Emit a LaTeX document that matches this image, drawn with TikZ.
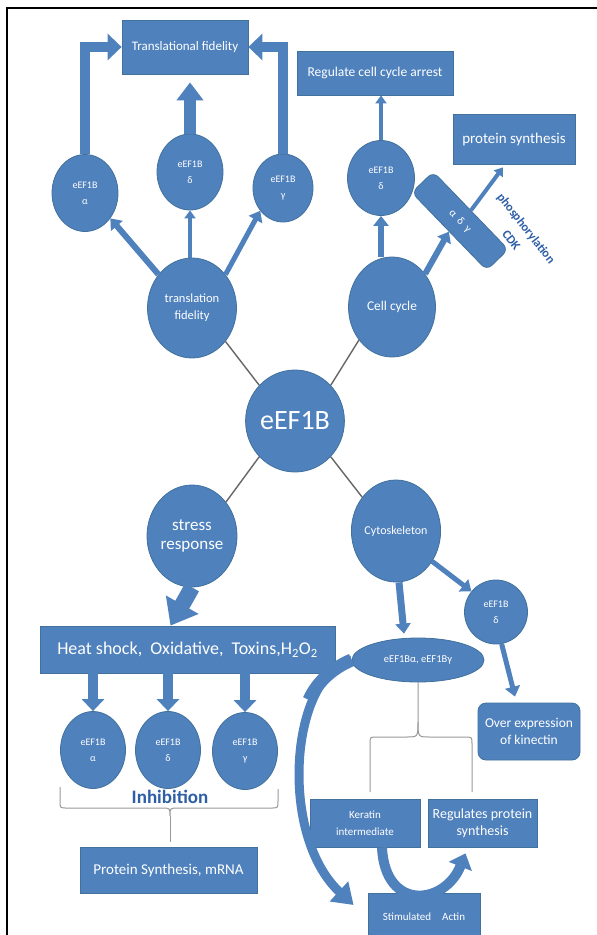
\documentclass[tikz,border=0pt]{standalone}
\usepackage{fontspec}
\setmainfont{Carlito}
\usetikzlibrary{shapes.geometric,arrows.meta}
\definecolor{fillblue}{HTML}{4F81BD}
\definecolor{rimblue}{HTML}{41719C}
\definecolor{inkblue}{HTML}{2E5FA6}
\newcommand{\fsz}[2]{\fontsize{#1}{#2}\selectfont}

\begin{document}
\begin{tikzpicture}[x=1pt,y=-1pt,
    blob/.style={ellipse,fill=fillblue,draw=rimblue,line width=0.8pt,text=white,inner sep=0pt,align=center},
    panel/.style={rectangle,fill=fillblue,draw=rimblue,line width=0.8pt,text=white,inner sep=0pt,align=center},
    link/.style={draw=black!60,line width=1.4pt},
    bracket/.style={draw=black!40,line width=1pt},
    push/.style={draw=fillblue,line width=#1},
    bigarrow/.style={draw=fillblue,line width=10pt,-{Triangle[length=14pt,width=26pt]}},
    midarrow/.style={draw=fillblue,line width=6pt,-{Triangle[length=10pt,width=15pt]}},
    thinarrow/.style={draw=fillblue,line width=4pt,-{Triangle[length=8pt,width=11pt]}}]
    \fill[white] (0,0) rectangle (597,935);
    \path[use as bounding box] (0,0) rectangle (597,935);
    \draw[line width=2pt] (7,935) -- (7,8) -- (597,8);

    \node[blob,minimum width=86pt,minimum height=102pt,font=\fsz{28}{30}] (core) at (295,421) {eEF1B};
    \node[blob,minimum width=89pt,minimum height=100pt,font=\fsz{12.5}{17}] (tfid) at (192,308) {translation\\fidelity};
    \node[blob,minimum width=87pt,minimum height=100pt,font=\fsz{13.4}{15}] (ccyc) at (392,307) {Cell cycle};
    \node[blob,minimum width=90pt,minimum height=102pt,font=\fsz{17}{19}] (strs) at (192,536) {stress\\response};
    \node[blob,minimum width=88pt,minimum height=102pt,font=\fsz{12}{14}] (cyto) at (396,531) {Cytoskeleton};

    \node[blob,minimum width=66pt,minimum height=77pt,font=\fsz{10}{16}] (tla) at (85,193) {eEF1B\\α};
    \node[blob,minimum width=66pt,minimum height=76pt,font=\fsz{10}{16}] (tld) at (190,172) {eEF1B\\δ};
    \node[blob,minimum width=60pt,minimum height=68pt,font=\fsz{10}{16}] (tlg) at (283,188) {eEF1B\\γ};
    \node[blob,minimum width=67pt,minimum height=75pt,font=\fsz{10}{16}] (rd) at (381,178) {eEF1B\\δ};
    \node[blob,minimum width=65pt,minimum height=77pt,font=\fsz{10}{16}] (ba) at (93,750) {eEF1B\\α};
    \node[blob,minimum width=65pt,minimum height=77pt,font=\fsz{10}{16}] (bd) at (168,750) {eEF1B\\δ};
    \node[blob,minimum width=65pt,minimum height=77pt,font=\fsz{10}{16}] (bg) at (245,751) {eEF1B\\γ};
    \node[blob,minimum width=63pt,minimum height=64pt,font=\fsz{10}{16}] (cd) at (496,612) {eEF1B\\δ};
    \node[blob,minimum width=132pt,minimum height=44pt,font=\fsz{10.5}{12}] (pair) at (418,660) {eEF1Bα, eEF1Bγ};

    \node[panel,minimum width=126pt,minimum height=54pt,font=\fsz{13}{15}] (tfbox) at (185,47) {Translational fidelity};
    \node[panel,minimum width=156pt,minimum height=44pt,font=\fsz{13.5}{15}] (regbox) at (375,73) {Regulate cell cycle arrest};
    \node[panel,minimum width=122pt,minimum height=50pt,font=\fsz{15}{17}] (psbox) at (514,139) {protein synthesis};
    \node[panel,rounded corners=7pt,rotate=-46,minimum width=108pt,minimum height=30pt,font=\fsz{11}{12}] (cdk) at (460,221) {α~ δ~ γ};
    \node[rotate=-52,text=inkblue,align=center,font=\bfseries\fsz{12.5}{19}] (phos) at (519,234) {phosphorylation\\CDK};
    \node[panel,minimum width=295pt,minimum height=47pt,font=\fsz{18}{20}] (heat) at (187.5,649.5) {Heat shock,~ Oxidative,~ Toxins,H\textsubscript{2}O\textsubscript{2}};
    \node[text=inkblue,font=\bfseries\fsz{19}{20}] (inhib) at (170,797) {Inhibition};
    \node[panel,minimum width=177pt,minimum height=46pt,font=\fsz{15}{17}] (psm) at (168.5,870) {Protein Synthesis, mRNA};
    \node[panel,rounded corners=8pt,minimum width=102pt,minimum height=57pt,font=\fsz{13.5}{17}] (kin) at (529,731.5) {Over expression\\of kinectin};
    \node[panel,minimum width=110pt,minimum height=48pt,font=\fsz{11}{17}] (ker) at (365,823) {Keratin\\intermediate};
    \node[panel,minimum width=109pt,minimum height=48pt,font=\fsz{14}{17}] (regp) at (482.5,823) {Regulates protein\\synthesis};
    \node[panel,minimum width=112pt,minimum height=48pt,font=\fsz{11}{13}] (actin) at (424,917) {Stimulated\quad Actin};

    \draw[link] (core.135) -- (tfid.-45);
    \draw[link] (core.45) -- (ccyc.-135);
    \draw[link] (core.-135) -- (strs.45);
    \draw[link] (core.-45) -- (cyto.135);

    \draw[bigarrow] (tla.north) |- (tfbox.west);
    \draw[bigarrow] (tlg.north) |- (tfbox.east);
    \draw[bigarrow,line width=12pt,-{Triangle[length=18pt,width=26pt]},shorten >=8pt] (tld.north) -- (tld.north |- tfbox.south);
    \draw[midarrow] (tfid.135) -- (tla.-45);
    \draw[thinarrow] (tld.south |- tfid.north) -- (tld.south);
    \draw[midarrow,line width=5pt] (tfid.45) -- (tlg.-135);

    \draw[thinarrow] (rd.north) -- (regbox.south -| rd.north);
    \draw[midarrow] (rd.south |- ccyc.north) -- (rd.south);
    \draw[midarrow] (ccyc.45) -- (cdk.south);
    \draw[thinarrow] (cdk.north) -- ([xshift=-11pt,yshift=-3pt]psbox.south);

    \draw[push=16pt,-{Triangle[length=24pt,width=36pt]}] (strs.south) -- ([xshift=-17pt]heat.north);
    \foreach \n in {ba,bd,bg}
        \draw[bigarrow,-{Triangle[length=12pt,width=22pt]}] (\n.north |- heat.south) -- (\n.north);
    \draw[bracket] (60,787) -- (60,801) .. controls (60,808) .. (67,808) -- (162,808) .. controls (170,808) .. (170,816)
        .. controls (170,808) .. (178,808) -- (271,808) .. controls (278,808) .. (278,801) -- (278,789);
    \draw[bracket] (170,816) -- (170,842);

    \draw[midarrow,line width=7pt] ([xshift=3pt]cyto.south) -- ([xshift=-14pt,yshift=4pt]pair.north);
    \draw[midarrow,line width=5pt] (cyto.-40) -- (cd.140);
    \draw[midarrow,line width=5pt] (cd.-80) -- ([xshift=-14pt,yshift=6pt]kin.north);
    \draw[bracket] (pair.south) -- (418,722) .. controls (418,737) .. (406,737) -- (377,737) .. controls (370,737) .. (370,744) -- (370,792);
    \draw[bracket] (418,722) .. controls (418,737) .. (430,737) -- (465,737) .. controls (472,737) .. (472,744) -- (472,792);
    \draw[push=10pt,-{Triangle[length=14pt,width=24pt]}] ([xshift=17pt]ker.south) .. controls (385,912) and (445,905) .. ([xshift=-17pt,yshift=-6pt]regp.south);
    \draw[push=13pt] (pair.west) .. controls (335,667) and (318,680) .. (309,700);
    \draw[push=9pt,-{Triangle[length=20pt,width=26pt]}] (pair.west) .. controls (290,675) and (278,835) .. ([xshift=-14pt,yshift=12pt]actin.west);
\end{tikzpicture}
\end{document}
